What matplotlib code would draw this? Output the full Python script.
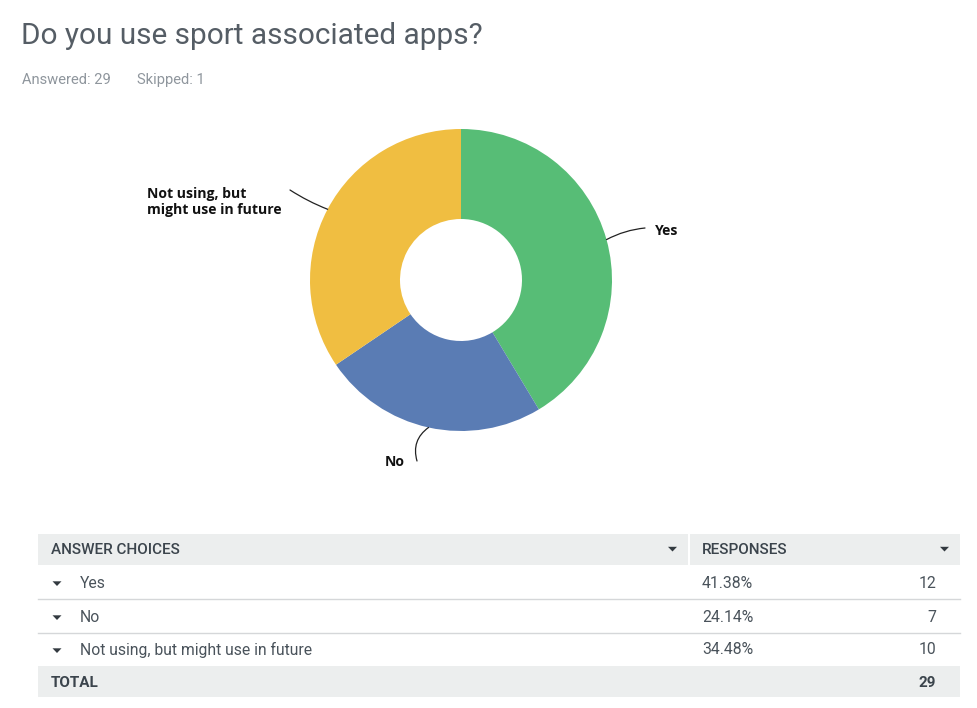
import numpy as np
import matplotlib
matplotlib.use("Agg")
import matplotlib.pyplot as plt
from matplotlib.patches import Rectangle, Polygon

# ---- data ----
title = "Do you use sport associated apps?"
answered = 29
skipped = 1
choices = ["Yes", "No", "Not using, but might use in future"]
pie_labels = ["Yes", "No", "Not using, but\nmight use in future"]
percents = [41.38, 24.14, 34.48]
counts = [12, 7, 10]
total = 29
colors = ["#57bd76", "#5a7cb4", "#f0be41"]

W, H = 978, 708
fig = plt.figure(figsize=(W / 100, H / 100), dpi=100)
fig.patch.set_facecolor("white")

# full-figure pixel axes for text and table
ax = fig.add_axes([0, 0, 1, 1])
ax.set_xlim(0, W)
ax.set_ylim(H, 0)
ax.axis("off")

FONT = "Roboto"
TXT = "#4a535b"
GRAY = "#8f969d"

ax.text(21, 36, title, fontsize=21.4, color="#555d65", family=FONT,
        va="center", ha="left")
ax.text(22, 80, f"Answered: {answered}", fontsize=10.6, color=GRAY,
        family=FONT, va="center", ha="left")
ax.text(137, 80, f"Skipped: {skipped}", fontsize=10.6, color=GRAY,
        family=FONT, va="center", ha="left")

# ---- donut ----
cx, cy, R, box = 461, 280, 151, 165
axp = fig.add_axes([(cx - box) / W, (H - cy - box) / H, 2 * box / W, 2 * box / H])
lim = box / R
wedges, _ = axp.pie(percents, colors=colors, startangle=90, counterclock=False,
                    radius=1, frame=True,
                    wedgeprops=dict(width=1 - 61 / 151, linewidth=0))
axp.set_xlim(-lim, lim)
axp.set_ylim(-lim, lim)
axp.set_aspect("equal")
axp.axis("off")

def px(x, y):
    return ((x - cx) / R, (cy - y) / R)

line_ends = [px(645, 228), px(417, 461), px(290, 190)]
text_pos = [px(655, 231), px(405, 462), px(147, 202)]
text_ha = ["left", "right", "left"]
rads = [0.1, -0.35, 0.05]
for w, lab, le, tp, ha, rad in zip(wedges, pie_labels, line_ends, text_pos, text_ha, rads):
    ang = np.deg2rad((w.theta1 + w.theta2) / 2)
    anchor = (np.cos(ang), np.sin(ang))
    axp.annotate("", xy=anchor, xytext=le, annotation_clip=False,
                 arrowprops=dict(arrowstyle="-", color="#222222", lw=0.9,
                                 shrinkA=0, shrinkB=0,
                                 connectionstyle=f"arc3,rad={rad}"))
    axp.text(tp[0], tp[1], lab, ha=ha, va="center", fontsize=10.1,
             fontweight="bold", color="#111111", family="Open Sans",
             linespacing=1.2, clip_on=False)

# ---- table ----
HDR = "#eceeee"
FS = 11.3
L, M, Rr = 38, 688, 960
ax.add_patch(Rectangle((L, 534), M - L, 31, color=HDR, lw=0))
ax.add_patch(Rectangle((M + 2, 534), Rr - M - 2, 31, color=HDR, lw=0))
ax.add_patch(Rectangle((L, 666), Rr - L, 31, color=HDR, lw=0))
ax.text(51, 550.5, "ANSWER CHOICES", fontsize=FS - 0.3, fontweight="medium",
        color="#3b444c", family=FONT, va="center")
ax.text(702, 550.5, "RESPONSES", fontsize=FS - 0.3, fontweight="medium",
        color="#3b444c", family=FONT, va="center")

def tri(x, y):
    ax.add_patch(Polygon([(x - 4.5, y - 2.2), (x + 4.5, y - 2.2), (x, y + 2.5)],
                         closed=True, color="#333a40", lw=0))

tri(672.5, 549)
tri(944.5, 549)

row_y = [583, 617, 650]
for i, (c, p, n, y) in enumerate(zip(choices, percents, counts, row_y)):
    tri(57, y + 0.5)
    ax.text(80, y, c, fontsize=FS, color=TXT, family=FONT, va="center")
    ax.text(702, y, f"{p:.2f}%", fontsize=FS, color=TXT, family=FONT, va="center")
    ax.text(936, y, f"{n}", fontsize=FS, color=TXT, family=FONT, va="center", ha="right")
    if i < 2:
        ax.plot([L, Rr], [y + 16, y + 16], color="#d5d7d9", lw=1)

ax.text(51, 683, "TOTAL", fontsize=FS - 0.3, fontweight="bold", color="#3b444c",
        family=FONT, va="center")
ax.text(936, 683, f"{total}", fontsize=FS - 0.3, fontweight="bold", color="#3b444c",
        family=FONT, va="center", ha="right")

fig.savefig("out.png", dpi=100, facecolor="white")
